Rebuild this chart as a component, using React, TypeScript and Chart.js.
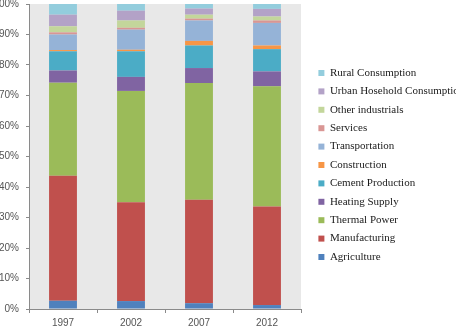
import React, { useEffect, useRef } from "react";
import { Chart, registerables } from "chart.js";

Chart.register(...registerables);

const categories = ["1997", "2002", "2007", "2012"];

const seriesNames = [
  "Agriculture",
  "Manufacturing",
  "Thermal Power",
  "Heating Supply",
  "Cement Production",
  "Construction",
  "Transportation",
  "Services",
  "Other industrials",
  "Urban Hosehold Consumption",
  "Rural Consumption",
];

const agriculture = [2.7, 2.6, 1.9, 1.3];
const manufacturing = [41.0, 32.4, 33.9, 32.3];
const thermalPower = [30.5, 36.5, 38.3, 39.4];
const heatingSupply = [4.0, 4.6, 4.9, 4.9];
const cementProduction = [6.3, 8.4, 7.4, 7.3];
const construction = [0.4, 0.5, 1.5, 1.2];
const transportation = [5.1, 6.6, 6.7, 7.4];
const services = [0.7, 0.6, 0.6, 0.8];
const otherIndustrials = [2.0, 2.4, 1.3, 1.3];
const urbanConsumption = [3.8, 3.2, 2.0, 2.5];
const ruralConsumption = [3.5, 2.2, 1.5, 1.6];

const seriesValues = [
  agriculture,
  manufacturing,
  thermalPower,
  heatingSupply,
  cementProduction,
  construction,
  transportation,
  services,
  otherIndustrials,
  urbanConsumption,
  ruralConsumption,
];

const seriesColors = [
  "#4F81BD",
  "#C0504D",
  "#9BBB59",
  "#8064A2",
  "#4BACC6",
  "#F79646",
  "#95B3D7",
  "#D99694",
  "#C3D69B",
  "#B3A2C7",
  "#93CDDD",
];

const yTicks = [0, 10, 20, 30, 40, 50, 60, 70, 80, 90, 100];

const plotBackground = {
  id: "plotBackground",
  beforeDraw(chart: any) {
    const { ctx, chartArea } = chart;
    ctx.save();
    ctx.fillStyle = "#E8E8E8";
    ctx.fillRect(chartArea.left, chartArea.top, chartArea.right - chartArea.left, chartArea.bottom - chartArea.top);
    ctx.restore();
  },
};

export default function App() {
  const ref = useRef<HTMLCanvasElement>(null);

  useEffect(() => {
    if (!ref.current) return;
    const chart = new Chart(ref.current, {
      type: "bar",
      data: {
        labels: categories,
        datasets: seriesNames.map((name, i) => ({
          label: name,
          data: seriesValues[i],
          backgroundColor: seriesColors[i],
          borderWidth: 0,
          categoryPercentage: 1,
          barPercentage: 0.41,
        })),
      },
      options: {
        responsive: false,
        animation: false,
        layout: { padding: { left: 0, top: 0, right: 0, bottom: 0 } },
        plugins: {
          tooltip: { enabled: false },
          legend: {
            position: "right",
            reverse: true,
            maxWidth: 145,
            title: {
              display: true,
              text: "",
              padding: 2.5,
              font: { size: 1, lineHeight: 1 },
            },
            labels: {
              boxWidth: 6,
              boxHeight: 6,
              padding: 7.4,
              color: "#1a1a1a",
              font: { family: "'Liberation Serif', serif", size: 11 },
            },
          },
        },
        scales: {
          x: {
            stacked: true,
            grid: {
              display: true,
              drawOnChartArea: false,
              drawTicks: true,
              tickLength: 4,
              offset: true,
              color: "#8A8A8A",
            },
            border: { display: true, color: "#8A8A8A", width: 1 },
            ticks: {
              color: "#555",
              padding: 4,
              font: { family: "'Liberation Sans', sans-serif", size: 10 },
            },
          },
          y: {
            stacked: true,
            min: 0,
            max: 100,
            afterBuildTicks(scale: any) {
              scale.ticks = yTicks.map((v) => ({ value: v }));
            },
            afterFit(scale: any) {
              scale.width = 36;
            },
            grid: {
              display: true,
              drawOnChartArea: false,
              drawTicks: true,
              tickLength: 3,
              color: "#8A8A8A",
            },
            border: { display: true, color: "#8A8A8A", width: 1 },
            ticks: {
              color: "#555",
              padding: 7,
              callback: (v: any) => v + "%",
              font: { family: "'Liberation Sans', sans-serif", size: 10 },
            },
          },
          gap: {
            position: "right",
            display: true,
            afterFit(scale: any) {
              scale.width = 10;
            },
            grid: { display: false },
            border: { display: false },
            ticks: { display: false },
          },
        },
      } as any,
      plugins: [plotBackground],
    });
    return () => chart.destroy();
  }, []);

  return (
    <div
      style={{
        position: "fixed",
        left: 0,
        top: 0,
        width: 456,
        height: 329,
        overflow: "hidden",
        background: "#fff",
      }}
    >
      <div style={{ position: "absolute", left: -7, top: -9, width: 463, height: 342 }}>
        <canvas ref={ref} width={463} height={342} style={{ display: "block" }} />
      </div>
    </div>
  );
}
